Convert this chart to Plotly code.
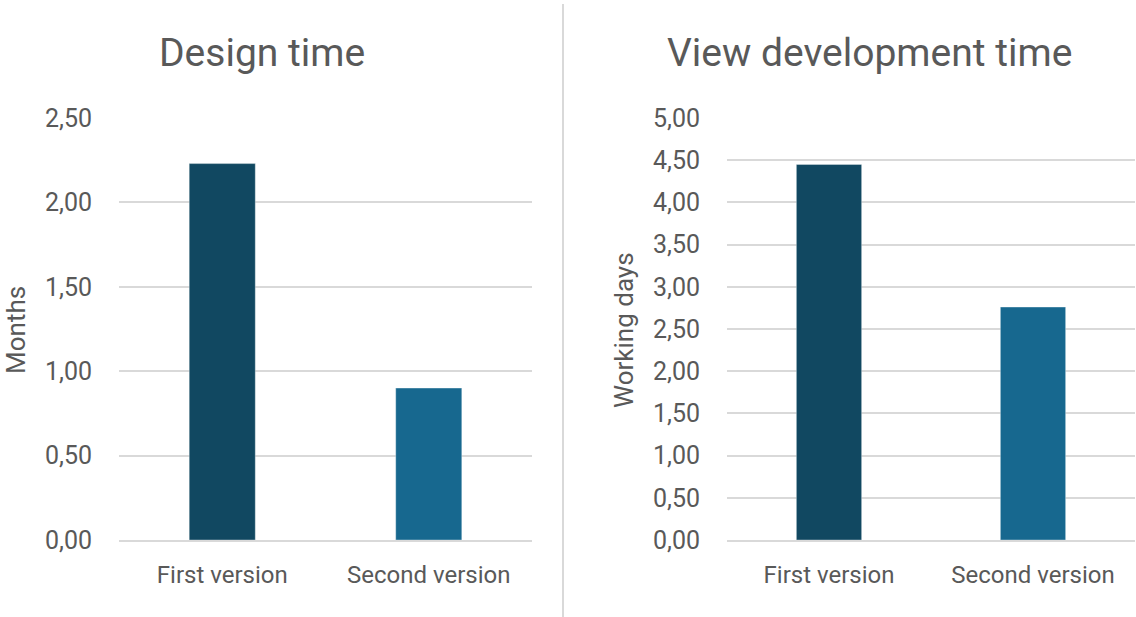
import plotly.graph_objects as go

W, H = 1136, 617

categories = ["First version", "Second version"]
design_months = [2.23, 0.90]
view_dev_days = [4.45, 2.76]
bar_colors = ["#114861", "#17688f"]

TEXT = "#595959"
GRID = "#d9d9d9"
FONT = "Roboto"

fig = go.Figure()

fig.add_trace(go.Bar(
    x=categories, y=design_months, width=0.32,
    marker=dict(color=bar_colors, line=dict(color="rgba(255,255,255,0.35)", width=1)),
    xaxis="x", yaxis="y", showlegend=False, hoverinfo="x+y",
))
fig.add_trace(go.Bar(
    x=categories, y=view_dev_days, width=0.32,
    marker=dict(color=bar_colors, line=dict(color="rgba(255,255,255,0.35)", width=1)),
    xaxis="x2", yaxis="y2", showlegend=False, hoverinfo="x+y",
))

ybot = 1 - 540 / H
ytop = 1 - 118 / H

xcommon = dict(showgrid=False, zeroline=False, showline=True, linecolor=GRID, linewidth=1.5,
               ticks="", automargin=False,
               tickfont=dict(family=FONT, size=24, color=TEXT), ticklabelstandoff=12)
ycommon = dict(showgrid=True, gridcolor=GRID, gridwidth=1.5, zeroline=False, showline=False,
               ticks="", tickformat=".2f", dtick=0.5, automargin=False,
               tickfont=dict(family=FONT, size=25, color=TEXT), ticklabelstandoff=26)

title_font = dict(family=FONT, size=39, color=TEXT)
axis_font = dict(family=FONT, size=26, color=TEXT)

fig.update_layout(
    width=W, height=H,
    margin=dict(l=0, r=0, t=0, b=0, pad=0, autoexpand=False),
    paper_bgcolor="white", plot_bgcolor="white",
    separators=", ",
    xaxis=dict(domain=[119 / W, 532 / W], anchor="y", **xcommon),
    yaxis=dict(domain=[ybot, ytop], anchor="x", range=[0, 2.5], **ycommon),
    xaxis2=dict(domain=[727 / W, 1135 / W], anchor="y2", **xcommon),
    yaxis2=dict(domain=[ybot, ytop], anchor="x2", range=[0, 5], **ycommon),
    annotations=[
        dict(text="Design time", x=262 / W, y=1 - 53 / H, xref="paper", yref="paper",
             xanchor="center", yanchor="middle", showarrow=False, font=title_font),
        dict(text="View development time", x=869 / W, y=1 - 53 / H, xref="paper", yref="paper",
             xanchor="center", yanchor="middle", showarrow=False, font=title_font),
        dict(text="Months", x=16 / W, y=1 - 330 / H, xref="paper", yref="paper",
             xanchor="center", yanchor="middle", textangle=-90, showarrow=False, font=axis_font),
        dict(text="Working days", x=624 / W, y=1 - 330 / H, xref="paper", yref="paper",
             xanchor="center", yanchor="middle", textangle=-90, showarrow=False, font=axis_font),
    ],
    shapes=[
        dict(type="line", xref="paper", yref="paper", x0=563 / W, x1=563 / W,
             y0=0, y1=1 - 4 / H, line=dict(color=GRID, width=2)),
    ],
)

fig.write_html("out.html")
